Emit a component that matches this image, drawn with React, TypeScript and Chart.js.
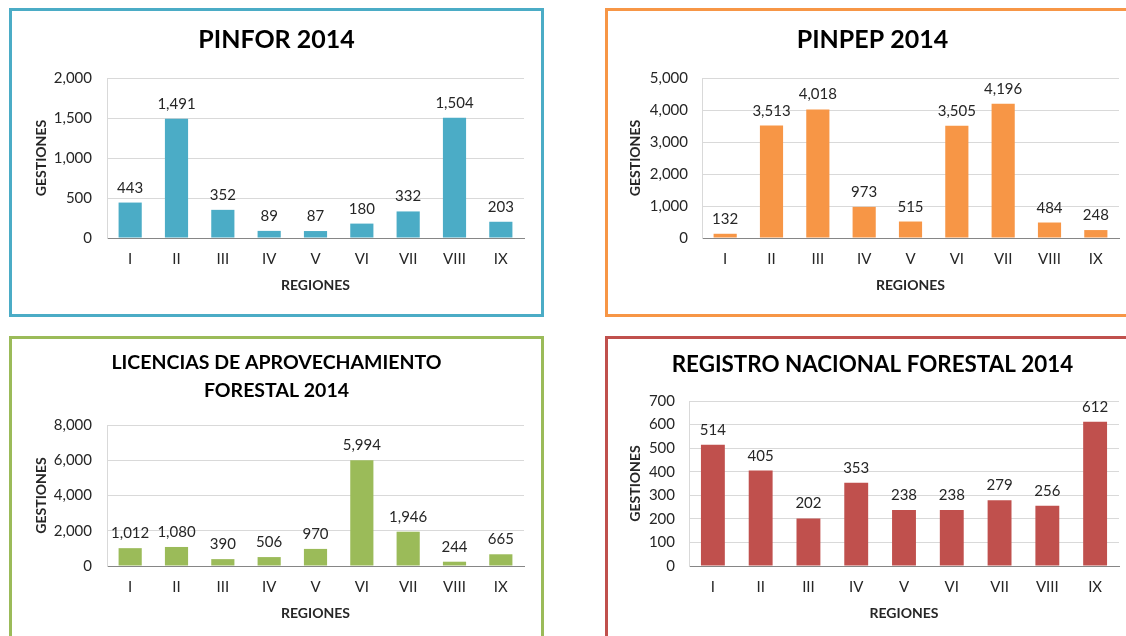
import React, { useEffect, useRef } from 'react';
import { Chart, registerables } from 'chart.js';

Chart.register(...registerables);

const regiones = ['I', 'II', 'III', 'IV', 'V', 'VI', 'VII', 'VIII', 'IX'];
const pinforValues = [443, 1491, 352, 89, 87, 180, 332, 1504, 203];
const pinpepValues = [132, 3513, 4018, 973, 515, 3505, 4196, 484, 248];
const licenciasValues = [1012, 1080, 390, 506, 970, 5994, 1946, 244, 665];
const registroValues = [514, 405, 202, 353, 238, 238, 279, 256, 612];

const pinforAxis = { max: 2000, step: 500 };
const pinpepAxis = { max: 5000, step: 1000 };
const licenciasAxis = { max: 8000, step: 2000 };
const registroAxis = { max: 700, step: 100 };

const yAxisTitle = 'GESTIONES';
const xAxisTitle = 'REGIONES';

const FONT = "Lato, 'Open Sans', sans-serif";

type Spec = {
  key: string;
  title: string | string[];
  titleSize: number;
  titleLineHeight: number;
  values: number[];
  axis: { max: number; step: number };
  color: string;
  box: { left: number; top: number; width: number; height: number };
  plot: { L: number; R: number; T: number; B: number };
  titleY: number;
  yTitleX: number;
  yTickPad: number;
};

const fmt = (v: number) => v.toLocaleString('en-US');

const panels: Spec[] = [
  {
    key: 'pinfor',
    title: 'PINFOR 2014',
    titleSize: 25,
    titleLineHeight: 1.2,
    values: pinforValues,
    axis: pinforAxis,
    color: '#4BACC6',
    box: { left: 9, top: 8, width: 535, height: 309 },
    plot: { L: 95, R: 512, T: 67, B: 227 },
    titleY: 29,
    yTitleX: 29,
    yTickPad: 15,
  },
  {
    key: 'pinpep',
    title: 'PINPEP 2014',
    titleSize: 25,
    titleLineHeight: 1.2,
    values: pinpepValues,
    axis: pinpepAxis,
    color: '#F79646',
    box: { left: 605, top: 8, width: 535, height: 309 },
    plot: { L: 94, R: 511, T: 67, B: 227 },
    titleY: 29,
    yTitleX: 27,
    yTickPad: 14,
  },
  {
    key: 'licencias',
    title: ['LICENCIAS DE APROVECHAMIENTO', 'FORESTAL 2014'],
    titleSize: 19.5,
    titleLineHeight: 1.436,
    values: licenciasValues,
    axis: licenciasAxis,
    color: '#9BBB59',
    box: { left: 9, top: 336, width: 535, height: 309 },
    plot: { L: 95, R: 512, T: 86, B: 227 },
    titleY: 24,
    yTitleX: 29,
    yTickPad: 15,
  },
  {
    key: 'registro',
    title: 'REGISTRO NACIONAL FORESTAL 2014',
    titleSize: 22.4,
    titleLineHeight: 1.2,
    values: registroValues,
    axis: registroAxis,
    color: '#C0504D',
    box: { left: 605, top: 336, width: 535, height: 309 },
    plot: { L: 81, R: 511, T: 62, B: 227 },
    titleY: 26,
    yTitleX: 27,
    yTickPad: 14,
  },
];

const BORDER = 3;

function Panel({ spec }: { spec: Spec }) {
  const ref = useRef<HTMLCanvasElement | null>(null);
  const cw = spec.box.width - BORDER * 2;
  const ch = spec.box.height - BORDER * 2;

  useEffect(() => {
    const canvas = ref.current;
    if (!canvas) return;
    const { L, R, T, B } = spec.plot;
    const padSide = cw - R;
    const yWidth = L - padSide;
    const xHeight = ch - B;
    const axisTitleSize = 14;
    const axisTitleLH = axisTitleSize * 1.2;
    const tickSize = 15;
    const tLH = spec.titleSize * spec.titleLineHeight;
    const nLines = Array.isArray(spec.title) ? spec.title.length : 1;
    const titlePadTop = spec.titleY - tLH / 2;
    const titlePadBottom = T - titlePadTop - tLH * nLines;
    const xLabelCenter = 248;
    const xTitleCenter = 274;

    const valueLabels = {
      id: 'valueLabels',
      afterDatasetsDraw(chart: any) {
        const ctx = chart.ctx;
        const meta = chart.getDatasetMeta(0);
        const data = chart.data.datasets[0].data as number[];
        ctx.save();
        ctx.font = `15px ${FONT}`;
        ctx.fillStyle = '#262626';
        ctx.textAlign = 'center';
        ctx.textBaseline = 'alphabetic';
        meta.data.forEach((bar: any, i: number) => {
          ctx.fillText(fmt(data[i]), bar.x, bar.y - 10);
        });
        ctx.restore();
      },
    };

    const chart = new Chart(canvas, {
      type: 'bar',
      data: {
        labels: regiones,
        datasets: [
          {
            data: spec.values,
            backgroundColor: spec.color,
            borderWidth: 0,
            categoryPercentage: 1,
            barPercentage: 0.5,
          },
        ],
      },
      options: {
        responsive: false,
        animation: false,
        devicePixelRatio: 1,
        layout: { padding: { left: padSide, right: padSide, top: 0, bottom: 0 } },
        plugins: {
          legend: { display: false },
          tooltip: { enabled: false },
          title: {
            display: true,
            text: spec.title,
            color: '#000',
            font: { family: FONT, size: spec.titleSize, weight: 'bold', lineHeight: spec.titleLineHeight },
            padding: { top: titlePadTop, bottom: titlePadBottom },
          },
        },
        scales: {
          x: {
            grid: { display: false, drawTicks: false },
            border: { display: true, color: '#868686', width: 1 },
            ticks: {
              color: '#262626',
              font: { family: FONT, size: tickSize },
              padding: xLabelCenter - B - (tickSize * 1.2) / 2,
              maxRotation: 0,
            },
            title: {
              display: true,
              text: xAxisTitle,
              color: '#262626',
              font: { family: FONT, size: axisTitleSize, weight: 'bold' },
              padding: { top: 0, bottom: ch - axisTitleLH / 2 - xTitleCenter },
            },
            afterFit: (s: any) => {
              s.height = xHeight;
            },
          },
          y: {
            min: 0,
            max: spec.axis.max,
            grid: {
              drawTicks: false,
              color: (c: any) => (c.tick && c.tick.value === 0 ? 'rgba(0,0,0,0)' : '#D9D9D9'),
            },
            border: { display: true, color: '#D9D9D9', width: 1 },
            ticks: {
              stepSize: spec.axis.step,
              color: '#262626',
              font: { family: FONT, size: tickSize },
              padding: spec.yTickPad,
              callback: (v: any) => fmt(Number(v)),
            },
            title: {
              display: true,
              text: yAxisTitle,
              color: '#262626',
              font: { family: FONT, size: axisTitleSize, weight: 'bold' },
              padding: { top: spec.yTitleX - padSide - axisTitleLH / 2, bottom: 0 },
            },
            afterFit: (s: any) => {
              s.width = yWidth;
            },
          },
        },
      },
      plugins: [valueLabels],
    } as any);
    return () => chart.destroy();
  }, [spec, cw, ch]);

  return (
    <div
      style={{
        position: 'absolute',
        left: spec.box.left,
        top: spec.box.top,
        width: spec.box.width,
        height: spec.box.height,
        boxSizing: 'border-box',
        border: `${BORDER}px solid ${spec.color}`,
        background: '#fff',
      }}
    >
      <canvas ref={ref} width={cw} height={ch} style={{ display: 'block', width: cw, height: ch }} />
    </div>
  );
}

export default function App() {
  return (
    <div
      style={{
        position: 'fixed',
        left: 0,
        top: 0,
        width: 1126,
        height: 636,
        overflow: 'hidden',
        background: '#fff',
      }}
    >
      {panels.map((p) => (
        <Panel key={p.key} spec={p} />
      ))}
    </div>
  );
}
